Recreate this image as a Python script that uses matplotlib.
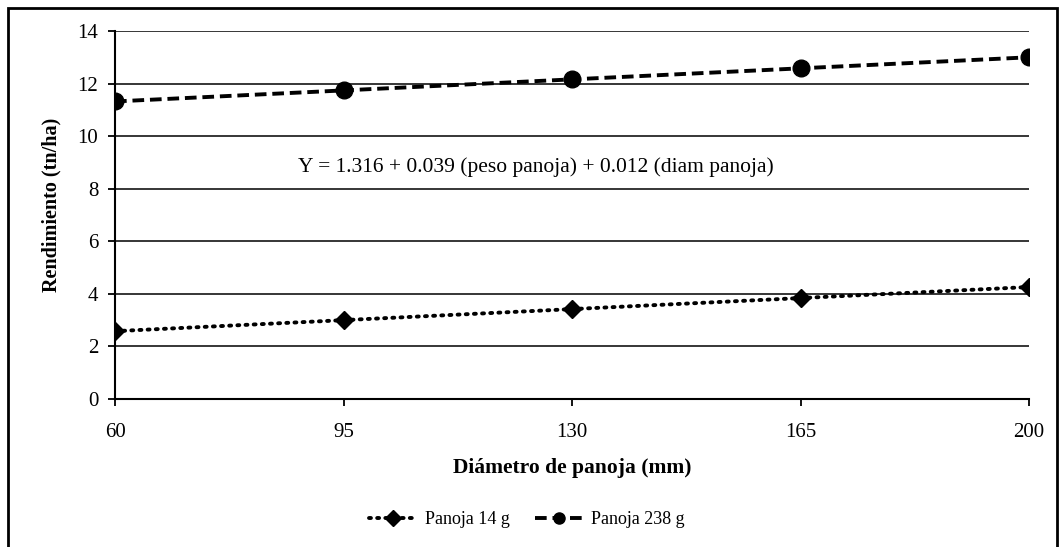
import matplotlib
matplotlib.use("Agg")
import matplotlib.pyplot as plt
from matplotlib.patches import Rectangle

plt.rcParams['font.family'] = ['Liberation Serif', 'DejaVu Serif']

diametro = [60, 95, 130, 165, 200]
panoja_14 = [2.58, 3.00, 3.42, 3.84, 4.26]
panoja_238 = [11.32, 11.74, 12.16, 12.58, 13.00]
y_ticks = [0, 2, 4, 6, 8, 10, 12, 14]
serie_labels = ["Panoja 14 g", "Panoja 238 g"]
ecuacion = "Y = 1.316 + 0.039 (peso panoja) + 0.012 (diam panoja)"

W, H = 1063, 547
fig = plt.figure(figsize=(W / 100, H / 100), dpi=100)
ax = fig.add_axes([115/W, 1-399/H, (1029-115)/W, (399-31)/H])

ax.plot(diametro, panoja_14, color='black', linestyle=(0, (0.5, 1.6)), dash_capstyle='round',
        linewidth=2.8, marker='D', markersize=9.5, label=serie_labels[0], zorder=3)
ax.plot(diametro, panoja_238, color='black', linestyle=(0, (3.0, 1.5)), linewidth=2.8,
        marker='o', markersize=12, label=serie_labels[1], zorder=3)

ax.set_xlim(diametro[0], diametro[-1])
ax.set_ylim(0, 14)
ax.set_xticks(diametro)
ax.set_yticks(y_ticks)
ax.grid(axis='y', color='black', linewidth=1.1)
ax.set_axisbelow(True)
for s in ['top', 'right']:
    ax.spines[s].set_visible(False)
ax.spines['left'].set_linewidth(1.5)
ax.spines['bottom'].set_linewidth(1.5)
ax.tick_params(axis='y', direction='out', length=5, width=1.3, labelsize=15, pad=7)
ax.tick_params(axis='x', direction='out', length=5, width=1.3, labelsize=15, pad=12)

fig.text(51/W, 1-205/H, "Rendimiento (tn/ha)", fontsize=14.5, fontweight='bold',
         rotation=90, ha='center', va='center')
fig.text(572/W, 1-468/H, "Diámetro de panoja (mm)", fontsize=15.5, fontweight='bold',
         ha='center', va='center')

fig.text(298/W, 1-167/H, ecuacion, fontsize=15.5, va='center', ha='left')

leg = fig.legend(loc='center', bbox_to_anchor=(527/W, 1-520/H), ncol=2, frameon=False,
                 fontsize=13, handlelength=2.6, columnspacing=1.4, handletextpad=0.5)
for h in leg.legend_handles:
    h.set_markersize(8)

fig.patches.append(Rectangle((8/W, -0.05), (1057-8)/W, 1.05 - 8/H, transform=fig.transFigure,
                             fill=False, edgecolor='black', linewidth=2.0))

fig.savefig("out.png", dpi=100)
